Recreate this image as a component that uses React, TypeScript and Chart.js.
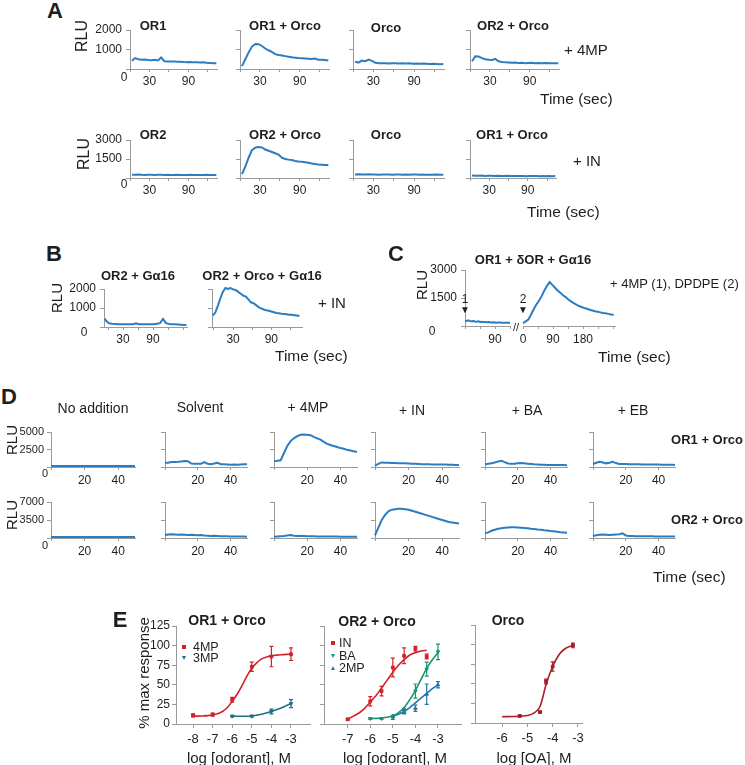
import React, { useEffect, useRef } from 'react';
import { Chart, registerables } from 'chart.js';

Chart.register(...registerables);

const FONT = '"Liberation Sans", Arial, Helvetica, sans-serif';
Chart.defaults.font.family = FONT;

const TRACE = '#2b7cc0';
const AXIS = '#9a9a9a';
const TXT = '#1e1e1e';
const RED = '#d0222b';
const TEAL = '#1f6e85';
const GREEN = '#1a9470';
const BLUE = '#2676a8';
const DARKRED = '#a81e2a';

// ---------- Panel A (time course, sec) ----------
const A_TIME = [3, 8, 13, 18, 23, 28, 33, 38, 43, 48, 53, 58, 63, 68, 73, 78, 83, 88, 93, 98, 103, 108, 113, 118, 123, 128, 133];
const A_4MP_OR1 = [420, 560, 500, 470, 490, 460, 450, 470, 440, 590, 400, 390, 380, 385, 370, 375, 360, 350, 360, 340, 350, 330, 340, 320, 310, 300, 290];
const A_4MP_OR1_ORCO = [150, 500, 850, 1150, 1280, 1270, 1180, 1050, 960, 880, 760, 720, 690, 660, 630, 600, 580, 560, 550, 540, 530, 510, 540, 480, 470, 460, 440];
const A_4MP_ORCO = [380, 330, 430, 400, 480, 420, 320, 300, 290, 300, 280, 290, 300, 280, 290, 280, 290, 270, 280, 270, 280, 270, 260, 270, 260, 250, 260];
const A_4MP_OR2_ORCO = [400, 650, 640, 560, 500, 470, 460, 520, 400, 360, 340, 330, 320, 330, 310, 320, 300, 310, 320, 300, 310, 300, 310, 290, 300, 290, 300];
const A_IN_OR2 = [260, 250, 270, 250, 240, 260, 250, 240, 250, 260, 240, 250, 240, 230, 250, 240, 230, 240, 250, 230, 240, 230, 240, 250, 240, 230, 240];
const A_IN_OR2_ORCO = [300, 900, 1600, 2200, 2400, 2450, 2420, 2250, 2150, 2050, 1950, 1850, 1600, 1500, 1450, 1420, 1350, 1300, 1280, 1250, 1200, 1150, 1100, 1060, 1050, 1030, 1020];
const A_IN_ORCO = [280, 290, 270, 280, 290, 270, 280, 260, 270, 280, 270, 260, 270, 280, 260, 270, 260, 270, 280, 260, 270, 260, 250, 260, 270, 260, 250];
const A_IN_OR1_ORCO = [200, 180, 170, 190, 160, 170, 180, 160, 170, 150, 160, 170, 150, 160, 150, 160, 150, 140, 150, 160, 150, 140, 150, 140, 150, 140, 150];

// ---------- Panel B ----------
const B_TIME_1 = [-7, -3, 2, 8, 14, 20, 26, 32, 38, 44, 50, 56, 62, 68, 74, 80, 86, 92, 98, 104, 110, 116, 122, 128, 134, 140, 146, 152, 157];
const B_OR2_GA16 = [450, 300, 200, 170, 160, 150, 150, 140, 150, 140, 150, 200, 150, 140, 150, 140, 150, 140, 170, 200, 420, 200, 160, 150, 140, 130, 120, 110, 100];
const B_TIME_2 = [-2, 2, 6, 10, 14, 18, 22, 26, 30, 34, 38, 42, 46, 50, 54, 58, 62, 66, 70, 74, 78, 82, 86, 90, 94, 98, 102, 106, 110, 114, 118, 122, 126, 130, 134];
const B_OR2_ORCO_GA16 = [600, 750, 1100, 1500, 1850, 2050, 2000, 2050, 1980, 1950, 1850, 1750, 1650, 1600, 1450, 1300, 1250, 1150, 1050, 980, 920, 880, 850, 820, 780, 740, 720, 700, 690, 670, 650, 640, 620, 600, 580];

// ---------- Panel C ----------
const C_TIME_L = [0, 5, 10, 15, 20, 25, 30, 35, 40, 45, 50, 55, 60, 65, 70, 75, 80, 85, 90, 95, 100, 105, 110, 115, 120, 125, 130, 135];
const C_4MP = [280, 270, 300, 260, 250, 270, 240, 230, 250, 220, 230, 210, 220, 200, 210, 200, 190, 200, 190, 180, 190, 185, 180, 175, 180, 170, 175, 170];
const C_TIME_R = [0, 8, 16, 24, 32, 40, 48, 56, 64, 72, 80, 88, 96, 104, 112, 120, 128, 136, 144, 152, 160, 168, 176, 184, 192, 200, 208, 216, 224, 232, 240, 248, 256, 264, 272];
const C_DPDPE = [150, 250, 350, 600, 900, 1150, 1350, 1600, 1900, 2150, 2350, 2200, 2050, 1900, 1780, 1650, 1550, 1420, 1320, 1230, 1150, 1070, 1020, 960, 920, 870, 830, 790, 760, 730, 700, 680, 650, 620, 600];

// ---------- Panel D ----------
const D_TIME = [0, 2, 4, 6, 8, 10, 12, 14, 16, 18, 20, 22, 24, 26, 28, 30, 32, 34, 36, 38, 40, 42, 44, 46, 48, 50];
const D_OR1_NONE = [150, 140, 150, 150, 140, 150, 140, 150, 150, 140, 150, 140, 150, 140, 150, 150, 140, 150, 140, 150, 140, 150, 140, 150, 140, 150];
const D_OR1_SOLV = [600, 620, 700, 720, 750, 800, 850, 820, 500, 450, 480, 450, 700, 450, 400, 500, 600, 400, 380, 350, 330, 350, 330, 350, 380, 400];
const D_OR1_4MP = [850, 880, 950, 2000, 3000, 3700, 4100, 4400, 4600, 4650, 4600, 4550, 4300, 4100, 3900, 3600, 3300, 3150, 3000, 2850, 2700, 2600, 2450, 2350, 2250, 2150];
const D_OR1_IN = [200, 450, 650, 620, 600, 580, 560, 550, 540, 520, 500, 480, 470, 430, 400, 390, 380, 370, 370, 360, 350, 340, 330, 320, 300, 280];
const D_OR1_BA = [400, 450, 550, 650, 800, 900, 700, 500, 450, 480, 550, 560, 520, 480, 430, 380, 350, 330, 320, 300, 300, 290, 280, 280, 270, 260];
const D_OR1_EB = [430, 600, 750, 650, 520, 600, 750, 560, 430, 430, 420, 400, 390, 380, 380, 370, 360, 350, 350, 340, 340, 330, 320, 320, 310, 300];
const D_OR2_NONE = [200, 210, 200, 190, 200, 210, 200, 190, 200, 200, 210, 200, 190, 200, 210, 200, 190, 200, 200, 210, 200, 190, 200, 200, 190, 200];
const D_OR2_SOLV = [600, 700, 750, 700, 650, 700, 650, 600, 650, 600, 550, 600, 500, 450, 400, 420, 380, 350, 330, 320, 300, 310, 290, 280, 270, 260];
const D_OR2_4MP = [250, 300, 350, 400, 500, 600, 450, 400, 380, 400, 350, 330, 320, 300, 310, 290, 300, 280, 270, 280, 260, 250, 260, 250, 240, 250];
const D_OR2_IN = [500, 2000, 3500, 4500, 5200, 5500, 5600, 5700, 5700, 5600, 5500, 5300, 5100, 4900, 4700, 4500, 4300, 4100, 3900, 3700, 3500, 3300, 3100, 3000, 2900, 2800];
const D_OR2_BA = [900, 1100, 1400, 1600, 1800, 1900, 2000, 2050, 2100, 2100, 2050, 2000, 1950, 1900, 1800, 1750, 1650, 1600, 1500, 1450, 1350, 1300, 1200, 1100, 1050, 1000];
const D_OR2_EB = [400, 550, 650, 700, 650, 600, 650, 700, 750, 900, 500, 400, 380, 350, 360, 340, 330, 320, 330, 310, 300, 310, 300, 290, 300, 290];

// ---------- Panel E (dose response) ----------
const E1_4MP_X = [-8, -7, -6, -5, -4, -3];
const E1_4MP_Y = [11, 12, 31, 73, 86, 89];
const E1_4MP_ERR = [2, 2, 3, 6, 13, 8];
const E1_4MP_FIT_X = [-8, -7.75, -7.5, -7.25, -7, -6.75, -6.5, -6.25, -6, -5.75, -5.5, -5.25, -5, -4.75, -4.5, -4.25, -4, -3.75, -3.5, -3.25, -3];
const E1_4MP_FIT_Y = [10, 10, 10.3, 10.7, 11.5, 13, 16, 21, 29, 38, 49, 61, 71, 78, 83, 85.5, 87, 87.8, 88.4, 88.8, 89];
const E1_3MP_X = [-6, -5, -4, -3];
const E1_3MP_Y = [10, 10, 16, 26];
const E1_3MP_ERR = [1, 1, 3, 5];
const E1_3MP_FIT_X = [-6, -5.5, -5, -4.5, -4, -3.5, -3];
const E1_3MP_FIT_Y = [10, 9.8, 10.3, 12.5, 16, 20.5, 26];

const E2_IN_X = [-7, -6, -5.5, -5, -4.5, -4, -3.5];
const E2_IN_Y = [6, 29, 42, 72, 87, 96, 86];
const E2_IN_ERR = [1, 6, 6, 12, 10, 3, 3];
const E2_IN_FIT_X = [-7, -6.75, -6.5, -6.25, -6, -5.75, -5.5, -5.25, -5, -4.75, -4.5, -4.25, -4, -3.75, -3.5];
const E2_IN_FIT_Y = [6, 10, 14, 20, 28, 36, 46, 56, 66, 75, 82, 88, 91, 93, 94];
const E2_BA_X = [-6, -5.5, -5, -4.5, -4, -3.5, -3];
const E2_BA_Y = [7, 7, 8, 17, 42, 70, 92];
const E2_BA_ERR = [1, 1, 2, 3, 9, 9, 10];
const E2_BA_FIT_X = [-6, -5.75, -5.5, -5.25, -5, -4.75, -4.5, -4.25, -4, -3.75, -3.5, -3.25, -3];
const E2_BA_FIT_Y = [7, 7.2, 7.6, 8.5, 10.5, 14.5, 21, 31, 43, 57, 71, 82, 91];
const E2_2MP_X = [-5, -4.5, -4, -3.5, -3];
const E2_2MP_Y = [10, 15, 20, 38, 50];
const E2_2MP_ERR = [1, 2, 4, 13, 4];
const E2_2MP_FIT_X = [-5, -4.75, -4.5, -4.25, -4, -3.75, -3.5, -3.25, -3];
const E2_2MP_FIT_Y = [10, 12.5, 16, 21, 27, 33, 39, 45, 50];

const E3_OA_X = [-5.3, -4.5, -4.26, -4, -3.2];
const E3_OA_Y = [9, 14, 53, 72, 99];
const E3_OA_ERR = [1, 1, 3, 6, 3];
const E3_OA_FIT_X = [-6, -5.5, -5, -4.75, -4.5, -4.25, -4, -3.75, -3.5, -3.2];
const E3_OA_FIT_Y = [8, 8.3, 9.5, 12.5, 21, 50, 72, 87, 95, 99];

// ---------- helpers ----------
type Axis = { min: number; max: number; ticks: number[]; labels: number[]; font: number; len: number; pad: number; show?: boolean };
type Spec = { rect: [number, number, number, number]; x: Axis; y: Axis; datasets: any[] };

const LW = 60, TP = 12, RP = 16, BH = 30;

const zip = (xs: number[], ys: number[]) => xs.map((x, i) => ({ x, y: ys[i] }));
const trace = (xs: number[], ys: number[]) => ({ data: zip(xs, ys), borderColor: TRACE, borderWidth: 2, pointRadius: 0, tension: 0, fill: false, clip: false });
const fitLine = (xs: number[], ys: number[], c: string) => ({ data: zip(xs, ys), borderColor: c, borderWidth: 1.6, pointRadius: 0, cubicInterpolationMode: 'monotone', fill: false, clip: false });
const pts = (xs: number[], ys: number[], errs: number[], c: string, style: string, rot = 0) => ({
  data: zip(xs, ys), showLine: false, pointStyle: style, pointRotation: rot, pointRadius: 2,
  pointBackgroundColor: c, pointBorderColor: c, borderColor: c, errors: errs, clip: false,
});

const errorBars = {
  id: 'errorBars',
  afterDatasetsDraw(chart: any) {
    const ctx = chart.ctx;
    const xs = chart.scales.x, ys = chart.scales.y;
    chart.data.datasets.forEach((ds: any) => {
      if (!ds.errors) return;
      ctx.save();
      ctx.strokeStyle = ds.borderColor;
      ctx.lineWidth = 1.2;
      ds.data.forEach((p: any, i: number) => {
        const e = ds.errors[i];
        if (!e) return;
        const px = xs.getPixelForValue(p.x);
        const t = ys.getPixelForValue(p.y + e);
        const b = ys.getPixelForValue(p.y - e);
        ctx.beginPath();
        ctx.moveTo(px, t); ctx.lineTo(px, b);
        ctx.moveTo(px - 2, t); ctx.lineTo(px + 2, t);
        ctx.moveTo(px - 2, b); ctx.lineTo(px + 2, b);
        ctx.stroke();
      });
      ctx.restore();
    });
  },
};

function Mini({ spec }: { spec: Spec }) {
  const ref = useRef<HTMLCanvasElement>(null);
  const [x0, y0, x1, y1] = spec.rect;
  const w = x1 - x0 + LW + RP;
  const h = y1 - y0 + TP + BH;
  useEffect(() => {
    const mk = (a: Axis, horiz: boolean) => ({
      type: 'linear', min: a.min, max: a.max, display: a.show !== false,
      afterBuildTicks: (s: any) => { s.ticks = a.ticks.map((v) => ({ value: v })); },
      afterFit: (s: any) => { if (horiz) s.height = BH; else s.width = LW; },
      ticks: {
        autoSkip: false, maxRotation: 0, minRotation: 0, padding: a.pad, color: TXT,
        font: { size: a.font, family: FONT },
        callback: (v: any) => (a.labels.includes(Number(v)) ? String(v) : ''),
      },
      grid: { drawOnChartArea: false, drawTicks: true, tickLength: a.len, color: AXIS, lineWidth: 1 },
      border: { display: true, color: AXIS, width: 1 },
    });
    const chart = new Chart(ref.current as HTMLCanvasElement, {
      type: 'line',
      data: { datasets: spec.datasets },
      options: {
        responsive: false, maintainAspectRatio: false, animation: false, events: [],
        layout: { padding: { top: TP, right: RP, bottom: 0, left: 0 } },
        plugins: { legend: { display: false }, tooltip: { enabled: false } },
        scales: { x: mk(spec.x, true), y: mk(spec.y, false) },
      },
      plugins: [errorBars],
    } as any);
    return () => chart.destroy();
  }, []);
  return <canvas ref={ref} width={w} height={h} style={{ position: 'absolute', left: x0 - LW, top: y0 - TP, width: w, height: h }} />;
}

function Txt({ x, y, s, b, a = 'c', r, c, children }: any) {
  const tx = a === 'l' ? '0' : a === 'r' ? '-100%' : '-50%';
  return (
    <div style={{
      position: 'absolute', left: x, top: y, transform: `translate(${tx},-50%)${r ? ' rotate(-90deg)' : ''}`,
      fontSize: s, fontWeight: b ? 'bold' : 'normal', color: c || TXT, whiteSpace: 'nowrap', lineHeight: 1, fontFamily: FONT,
    }}>{children}</div>
  );
}

function Marker({ x, y, c, kind }: any) {
  if (kind === 'sq') return <div style={{ position: 'absolute', left: x - 2, top: y - 2, width: 4, height: 4, background: c }} />;
  if (kind === 'dn') return <div style={{ position: 'absolute', left: x - 2.5, top: y - 2, width: 0, height: 0, borderLeft: '2.5px solid transparent', borderRight: '2.5px solid transparent', borderTop: `4px solid ${c}` }} />;
  return <div style={{ position: 'absolute', left: x - 2.5, top: y - 2, width: 0, height: 0, borderLeft: '2.5px solid transparent', borderRight: '2.5px solid transparent', borderBottom: `4px solid ${c}` }} />;
}

// ---------- specs ----------
const A_COLS: [number, number][] = [[130, 217], [240, 329], [353, 444], [470, 559]];
const axAx: Axis = { min: 0, max: 134, ticks: [0, 30, 60, 90, 120], labels: [30, 90], font: 12, len: 3, pad: 2 };
const axAy1 = (lab: boolean): Axis => ({ min: 0, max: 2000, ticks: [0, 1000, 2000], labels: lab ? [1000, 2000] : [], font: 12, len: 4, pad: 4 });
const axAy2 = (lab: boolean): Axis => ({ min: 0, max: 3000, ticks: [0, 1500, 3000], labels: lab ? [1500, 3000] : [], font: 12, len: 4, pad: 4 });
const A_ROW1 = [A_4MP_OR1, A_4MP_OR1_ORCO, A_4MP_ORCO, A_4MP_OR2_ORCO];
const A_ROW2 = [A_IN_OR2, A_IN_OR2_ORCO, A_IN_ORCO, A_IN_OR1_ORCO];

const D_COLS: [number, number][] = [[51, 135], [165, 247], [274, 357], [375, 459], [485, 567], [593, 675]];
const axDx: Axis = { min: 0, max: 50, ticks: [0, 20, 40], labels: [20, 40], font: 12, len: 3, pad: 3 };
const axDy1 = (lab: boolean): Axis => ({ min: 0, max: 5000, ticks: [0, 2500, 5000], labels: lab ? [2500, 5000] : [], font: 11, len: 4, pad: 3 });
const axDy2 = (lab: boolean): Axis => ({ min: 0, max: 7000, ticks: [0, 3500, 7000], labels: lab ? [3500, 7000] : [], font: 11, len: 4, pad: 3 });
const D_ROW1 = [D_OR1_NONE, D_OR1_SOLV, D_OR1_4MP, D_OR1_IN, D_OR1_BA, D_OR1_EB];
const D_ROW2 = [D_OR2_NONE, D_OR2_SOLV, D_OR2_4MP, D_OR2_IN, D_OR2_BA, D_OR2_EB];

const axEy = (lab: boolean): Axis => ({ min: 0, max: 125, ticks: [0, 25, 50, 75, 100, 125], labels: lab ? [0, 25, 50, 75, 100, 125] : [], font: 12, len: 4, pad: 2 });

const SPECS: Spec[] = [
  ...A_COLS.map(([a, b], i) => ({ rect: [a, 30, b, 69] as [number, number, number, number], x: axAx, y: axAy1(i === 0), datasets: [trace(A_TIME, A_ROW1[i])] })),
  ...A_COLS.map(([a, b], i) => ({ rect: [a, 140, i === 3 ? 556 : b, 178] as [number, number, number, number], x: axAx, y: axAy2(i === 0), datasets: [trace(A_TIME, A_ROW2[i])] })),
  {
    rect: [104, 289, 187, 327], x: { min: -8, max: 158, ticks: [0, 30, 60, 90, 120, 150], labels: [30, 90], font: 12, len: 3, pad: 2 },
    y: { min: 0, max: 2000, ticks: [0, 1000, 2000], labels: [1000, 2000], font: 12, len: 4, pad: 4 }, datasets: [trace(B_TIME_1, B_OR2_GA16)],
  },
  {
    rect: [212, 289, 302, 327], x: { min: -3, max: 138, ticks: [0, 30, 60, 90, 120], labels: [30, 90], font: 12, len: 3, pad: 2 },
    y: { min: 0, max: 2000, ticks: [0, 1000, 2000], labels: [], font: 12, len: 4, pad: 4 }, datasets: [trace(B_TIME_2, B_OR2_ORCO_GA16)],
  },
  {
    rect: [465, 270, 510, 326], x: { min: 0, max: 135, ticks: [0, 45, 90, 135], labels: [90], font: 12, len: 3, pad: 3 },
    y: { min: 0, max: 3000, ticks: [0, 1500, 3000], labels: [1500, 3000], font: 12, len: 4, pad: 4 }, datasets: [trace(C_TIME_L, C_4MP)],
  },
  {
    rect: [523, 270, 615, 326], x: { min: 0, max: 276, ticks: [0, 45, 90, 135, 180, 225, 270], labels: [0, 90, 180], font: 12, len: 3, pad: 3 },
    y: { min: 0, max: 3000, ticks: [0, 1500, 3000], labels: [], font: 12, len: 4, pad: 4, show: false }, datasets: [trace(C_TIME_R, C_DPDPE)],
  },
  ...D_COLS.map(([a, b], i) => ({ rect: [a, 432, b, 467] as [number, number, number, number], x: axDx, y: axDy1(i === 0), datasets: [trace(D_TIME, D_ROW1[i])] })),
  ...D_COLS.map(([a, b], i) => ({ rect: [a, 502, b, 538] as [number, number, number, number], x: axDx, y: axDy2(i === 0), datasets: [trace(D_TIME, D_ROW2[i])] })),
  {
    rect: [176, 626, 310, 724], x: { min: -8.87, max: -2.03, ticks: [-8, -7, -6, -5, -4, -3], labels: [-8, -7, -6, -5, -4, -3], font: 13, len: 4, pad: 4 },
    y: axEy(true),
    datasets: [
      fitLine(E1_4MP_FIT_X, E1_4MP_FIT_Y, RED), pts(E1_4MP_X, E1_4MP_Y, E1_4MP_ERR, RED, 'rect'),
      fitLine(E1_3MP_FIT_X, E1_3MP_FIT_Y, TEAL), pts(E1_3MP_X, E1_3MP_Y, E1_3MP_ERR, TEAL, 'triangle', 180),
    ],
  },
  {
    rect: [324, 626, 461, 724], x: { min: -8.05, max: -1.98, ticks: [-7, -6, -5, -4, -3], labels: [-7, -6, -5, -4, -3], font: 13, len: 4, pad: 4 },
    y: axEy(false),
    datasets: [
      fitLine(E2_IN_FIT_X, E2_IN_FIT_Y, RED), pts(E2_IN_X, E2_IN_Y, E2_IN_ERR, RED, 'rect'),
      fitLine(E2_BA_FIT_X, E2_BA_FIT_Y, GREEN), pts(E2_BA_X, E2_BA_Y, E2_BA_ERR, GREEN, 'triangle', 180),
      fitLine(E2_2MP_FIT_X, E2_2MP_FIT_Y, BLUE), pts(E2_2MP_X, E2_2MP_Y, E2_2MP_ERR, BLUE, 'triangle'),
    ],
  },
  {
    rect: [475, 625, 582, 723], x: { min: -7.07, max: -2.84, ticks: [-6, -5, -4, -3], labels: [-6, -5, -4, -3], font: 13, len: 4, pad: 4 },
    y: axEy(false),
    datasets: [fitLine(E3_OA_FIT_X, E3_OA_FIT_Y, DARKRED), pts(E3_OA_X, E3_OA_Y, E3_OA_ERR, DARKRED, 'rect')],
  },
];

export default function App() {
  return (
    <div style={{ position: 'absolute', left: 0, top: 0, width: 745, height: 765, background: '#fff', overflow: 'hidden', fontFamily: FONT }}>
      {SPECS.map((s, i) => <Mini key={i} spec={s} />)}

      {/* Panel A */}
      <Txt x={55} y={11} s={22} b>A</Txt>
      <Txt x={82} y={36} s={16} r>RLU</Txt>
      <Txt x={124} y={77} s={12}>0</Txt>
      <Txt x={153} y={25} s={13} b>OR1</Txt>
      <Txt x={285} y={25} s={13} b>OR1 + Orco</Txt>
      <Txt x={386} y={27} s={13} b>Orco</Txt>
      <Txt x={513} y={25} s={13} b>OR2 + Orco</Txt>
      <Txt x={564} y={49} s={15} a="l">+ 4MP</Txt>
      <Txt x={540} y={99} s={15.5} a="l">Time (sec)</Txt>
      <Txt x={84} y={154} s={16} r>RLU</Txt>
      <Txt x={124} y={184} s={12}>0</Txt>
      <Txt x={153} y={134} s={13} b>OR2</Txt>
      <Txt x={285} y={134} s={13} b>OR2 + Orco</Txt>
      <Txt x={386} y={134} s={13} b>Orco</Txt>
      <Txt x={512} y={134} s={13} b>OR1 + Orco</Txt>
      <Txt x={573} y={160} s={15} a="l">+ IN</Txt>
      <Txt x={527} y={212} s={15.5} a="l">Time (sec)</Txt>

      {/* Panel B */}
      <Txt x={54} y={254} s={22} b>B</Txt>
      <Txt x={138} y={275} s={13} b>OR2 + Gα16</Txt>
      <Txt x={262} y={275} s={13} b>OR2 + Orco + Gα16</Txt>
      <Txt x={56} y={298} s={15} r>RLU</Txt>
      <Txt x={84} y={332} s={12}>0</Txt>
      <Txt x={318} y={302} s={15} a="l">+ IN</Txt>
      <Txt x={275} y={356} s={15.5} a="l">Time (sec)</Txt>

      {/* Panel C */}
      <Txt x={396} y={254} s={22} b>C</Txt>
      <Txt x={533} y={259} s={13} b>OR1 + δOR + Gα16</Txt>
      <Txt x={421} y={285} s={15} r>RLU</Txt>
      <Txt x={432} y={331} s={12}>0</Txt>
      <Txt x={465} y={299} s={12}>1</Txt>
      <Txt x={465} y={310} s={10}>▼</Txt>
      <Txt x={523} y={299} s={12}>2</Txt>
      <Txt x={523} y={310} s={10}>▼</Txt>
      <Txt x={516} y={327} s={11}>//</Txt>
      <Txt x={610} y={283} s={13} a="l">+ 4MP (1), DPDPE (2)</Txt>
      <Txt x={598} y={357} s={15.5} a="l">Time (sec)</Txt>

      {/* Panel D */}
      <Txt x={9} y={397} s={22} b>D</Txt>
      <Txt x={93} y={408} s={14}>No addition</Txt>
      <Txt x={200} y={407} s={14}>Solvent</Txt>
      <Txt x={308} y={407} s={14}>+ 4MP</Txt>
      <Txt x={412} y={410} s={14}>+ IN</Txt>
      <Txt x={527} y={410} s={14}>+ BA</Txt>
      <Txt x={633} y={410} s={14}>+ EB</Txt>
      <Txt x={11} y={440} s={15} r>RLU</Txt>
      <Txt x={45} y={473} s={11}>0</Txt>
      <Txt x={11} y={515} s={15} r>RLU</Txt>
      <Txt x={45} y={545} s={11}>0</Txt>
      <Txt x={707} y={439} s={13} b>OR1 + Orco</Txt>
      <Txt x={707} y={519} s={13} b>OR2 + Orco</Txt>
      <Txt x={653} y={577} s={15.5} a="l">Time (sec)</Txt>

      {/* Panel E */}
      <Txt x={120} y={620} s={22} b>E</Txt>
      <Txt x={143} y={673} s={15} r>% max response</Txt>
      <Txt x={227} y={620} s={14} b>OR1 + Orco</Txt>
      <Txt x={377} y={621} s={14} b>OR2 + Orco</Txt>
      <Txt x={508} y={620} s={14} b>Orco</Txt>
      <Txt x={239} y={757} s={15}>log [odorant], M</Txt>
      <Txt x={395} y={757} s={15}>log [odorant], M</Txt>
      <Txt x={534} y={757} s={15}>log [OA], M</Txt>
      <Marker x={184} y={647} c={RED} kind="sq" />
      <Txt x={193} y={647} s={12.5} a="l">4MP</Txt>
      <Marker x={184} y={658} c={TEAL} kind="dn" />
      <Txt x={193} y={658} s={12.5} a="l">3MP</Txt>
      <Marker x={333} y={643} c={RED} kind="sq" />
      <Txt x={339} y={643} s={12.5} a="l">IN</Txt>
      <Marker x={333} y={656} c={GREEN} kind="dn" />
      <Txt x={339} y={656} s={12.5} a="l">BA</Txt>
      <Marker x={333} y={668} c={BLUE} kind="up" />
      <Txt x={339} y={668} s={12.5} a="l">2MP</Txt>
    </div>
  );
}
